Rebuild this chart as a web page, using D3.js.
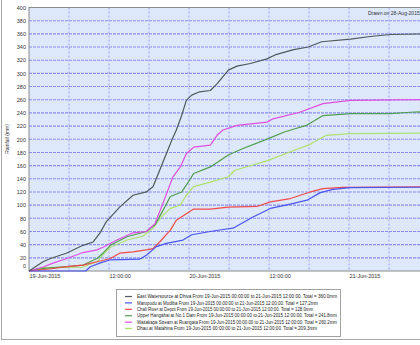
<!DOCTYPE html>
<html>
<head>
<meta charset="utf-8">
<script src="https://cdn.jsdelivr.net/npm/d3@7"></script>
<style>
  body { margin: 0; background: #fff; }
  svg { display: block; font-family: "Liberation Sans", Arial, sans-serif; }
</style>
</head>
<body>
<div id="chart"></div>
<script>
// ---------------- data (hours from 19-Jun-2015 00:00, rainfall mm) ----------------
const eastHours  = [0, 2.1, 3.2, 5.6, 8.1, 9.6, 10.6, 11.6, 13.6, 15.6, 17.6, 18.6, 19.6, 20.6, 21.4, 22.1, 22.9, 23.6, 24.4, 25.6, 27.2, 28.2, 29.9, 31.2, 33.2, 35.7, 36.9, 39.7, 41.9, 43.9, 48.2, 51.2, 54.2, 60];
const eastVals   = [0, 14, 19, 27, 39, 44, 57, 75, 97, 115, 120, 128, 153, 178, 198, 214, 236, 259, 267, 272, 274, 284, 305, 311, 315, 322, 328, 336, 340, 348, 352, 356, 359, 360];

const maruHours  = [0, 8.5, 9.2, 10.6, 12.2, 16.6, 17.6, 19.1, 20.6, 23.1, 24.4, 27.2, 29.1, 30.6, 33.6, 36.2, 39.2, 41.7, 43.7, 45.6, 48.2, 60];
const maruVals   = [0, 0, 6.5, 12, 17, 18, 24, 37, 42, 47, 55, 60, 63, 65, 82, 95, 101.5, 107.5, 119, 124, 126.5, 127.2];

const chaliHours = [0, 3, 5.7, 8.1, 10.2, 12.2, 13.6, 15.6, 17.6, 18.6, 19.6, 21.2, 22.1, 23.6, 24.7, 27.2, 29.9, 34.2, 36.2, 39.2, 42.2, 44.1, 47, 60];
const chaliVals  = [0, 3, 6.5, 9, 14, 19, 27, 29, 32, 34, 44, 62, 77, 87, 94, 94, 97, 98, 105, 110, 120, 125, 127, 128];

const upperHours = [0, 2.2, 5.7, 8.1, 10.2, 11.1, 12.2, 14.7, 17.6, 18.9, 20.1, 21.2, 22.9, 23.9, 24.7, 27.2, 29.9, 32.1, 35.9, 38.3, 39.9, 41.6, 44.1, 48.2, 54.2, 57.2, 60];
const upperVals  = [0, 4, 6.5, 9, 19, 27, 39, 52, 60, 70, 92, 113, 120, 135, 148, 158, 176, 186, 201, 211, 216, 221, 236, 239, 239, 241, 241.8];

const waitHours  = [0, 2.2, 3.6, 5.7, 8.1, 10.2, 11.1, 13.2, 15.6, 17.6, 18.9, 20.1, 21.6, 22.7, 23.6, 24.7, 27.2, 28.2, 29.1, 31.2, 35.7, 36.6, 40.6, 44.1, 48.2, 60];
const waitVals   = [0, 6.5, 12, 19, 28, 32, 36, 47, 58, 60, 72, 103, 143, 158, 178, 188, 191, 206, 214, 221, 226, 231, 241, 254, 259, 260.2];

const dhauHours  = [0, 2.2, 8.1, 10.2, 11.1, 12.2, 14.7, 17.1, 18.6, 20.1, 21.2, 22.7, 23.6, 24.7, 27.2, 29.9, 30.9, 35.9, 39.2, 41.9, 44.6, 48.2, 54.2, 60];
const dhauVals   = [0, 5, 6, 14, 25, 36, 47, 53, 65, 85, 95, 100, 115, 128, 135, 143, 153, 168, 181, 191, 206, 208.6, 209, 209.3];

const seriesNames = [
  "East Watersource at Dhiva From 19-Jun-2015 00:00:00 to 21-Jun-2015 12:00:00. Total = 360.0mm",
  "Marupudu at Mudiba From 19-Jun-2015 00:00:00 to 21-Jun-2015 12:00:00. Total = 127.2mm",
  "Chali River at Depot From 19-Jun-2015 00:00:00 to 21-Jun-2015 12:00:00. Total = 128.0mm",
  "Upper Hangahai at No.1 Dam From 19-Jun-2015 00:00:00 to 21-Jun-2015 12:00:00. Total = 241.8mm",
  "Waitakapa Stream at Ruangata From 19-Jun-2015 00:00:00 to 21-Jun-2015 12:00:00. Total = 260.2mm",
  "Dhau at Matahina From 19-Jun-2015 00:00:00 to 21-Jun-2015 12:00:00. Total = 209.3mm"
];
const seriesColors = ["#4f5a5a", "#4a55ee", "#f04a4a", "#4f9e4f", "#e04ee0", "#b0e070"];
const yTicks = d3.range(0, 401, 20);
const xLabelHours = [0, 12, 24, 36, 48];
const drawnText = "Drawn on 28-Aug-2015";

//------------------------------- SVG --------------------------------//
const width = 420, height = 345;
const plot = { left: 29, top: 7.5, right: 429, bottom: 271 };
const start = new Date(Date.UTC(2015, 5, 19, 0, 0));
const hrs = h => new Date(start.getTime() + h * 3600e3);

const svg = d3.select("#chart").append("svg")
    .attr("width", width)
    .attr("height", height);

// outer frame
svg.append("rect")
    .attr("x", 1.5).attr("y", -2)
    .attr("width", width + 10).attr("height", height - 3.5)
    .attr("fill", "none").attr("stroke", "#a8a8a8");

//----------------------------- SCALES -------------------------------//
const xScale = d3.scaleUtc().domain([hrs(0), hrs(60)]).range([plot.left, plot.right]);
const yScale = d3.scaleLinear().domain([0, 400]).range([plot.bottom, plot.top]);

// plot background
svg.append("rect")
    .attr("x", plot.left).attr("y", plot.top)
    .attr("width", plot.right - plot.left).attr("height", plot.bottom - plot.top)
    .attr("fill", "#dde8fb");

// horizontal gridlines
svg.append("g")
  .selectAll("line").data(yTicks.filter(d => d > 0 && d < 400)).join("line")
    .attr("x1", plot.left).attr("x2", plot.right)
    .attr("y1", d => yScale(d)).attr("y2", d => yScale(d))
    .attr("stroke", "#8a8cf2").attr("stroke-width", 1.1)
    .attr("stroke-dasharray", "3,1");

// vertical gridlines every 6 hours
const xGrid = d3.utcHour.every(6).range(hrs(0), hrs(60.01)).slice(1);
svg.append("g")
  .selectAll("line").data(xGrid).join("line")
    .attr("x1", d => xScale(d)).attr("x2", d => xScale(d))
    .attr("y1", plot.top).attr("y2", plot.bottom)
    .attr("stroke", "#9c9ef0").attr("stroke-width", 1)
    .attr("stroke-dasharray", "2,2");

// plot border
svg.append("rect")
    .attr("x", plot.left).attr("y", plot.top)
    .attr("width", plot.right - plot.left).attr("height", plot.bottom - plot.top)
    .attr("fill", "none").attr("stroke", "#8a8a8a");

//------------------------------ AXES --------------------------------//
const yaxis = d3.axisLeft(yScale).tickValues(yTicks).tickSize(0).tickPadding(3);
const yg = svg.append("g")
    .attr("transform", "translate(" + plot.left + ",0)")
    .call(yaxis);
yg.select(".domain").remove();
yg.selectAll("text")
    .attr("font-size", 5.5).attr("fill", "#333")
    .attr("font-family", "Liberation Sans, Arial, sans-serif")
    .attr("dy", d => d === 0 ? "-0.6em" : "0.32em");

const xaxis = d3.axisBottom(xScale)
    .tickValues(xLabelHours.map(hrs))
    .tickSize(0).tickPadding(3)
    .tickFormat(d => d.getUTCHours() === 0 ? d3.utcFormat("%d-%b-%Y")(d) : d3.utcFormat("%H:%M:%S")(d));
const xg = svg.append("g")
    .attr("transform", "translate(0," + plot.bottom + ")")
    .call(xaxis);
xg.select(".domain").remove();
xg.selectAll("text")
    .attr("font-size", 5.5).attr("fill", "#333")
    .attr("font-family", "Liberation Sans, Arial, sans-serif")
    .attr("text-anchor", "start");

svg.append("text")
    .attr("transform", "translate(9,139) rotate(-90)")
    .attr("text-anchor", "middle")
    .attr("font-size", 5).attr("fill", "#333")
    .text("Rainfall (mm)");

svg.append("text")
    .attr("x", 368).attr("y", 14.5)
    .attr("font-size", 5).attr("fill", "#333")
    .text(drawnText);

//------------------------------ LINES -------------------------------//
const series = [
  [eastHours, eastVals], [maruHours, maruVals], [chaliHours, chaliVals],
  [upperHours, upperVals], [waitHours, waitVals], [dhauHours, dhauVals]
];
const line = d3.line()
    .x(d => xScale(hrs(d[0])))
    .y(d => yScale(d[1]));

const drawOrder = [5, 3, 4, 2, 1, 0];
drawOrder.forEach(i => {
  const pts = series[i][0].map((h, j) => [h, series[i][1][j]]);
  svg.append("path")
      .datum(pts)
      .attr("fill", "none")
      .attr("stroke", seriesColors[i])
      .attr("stroke-width", 1.2)
      .attr("stroke-linejoin", "round")
      .attr("d", line);
});

//----------------------------- LEGEND -------------------------------//
const legend = svg.append("g");
legend.append("rect")
    .attr("x", 116.5).attr("y", 289.5)
    .attr("width", 224).attr("height", 47)
    .attr("fill", "#fff").attr("stroke", "#a0a0a0");

const rows = legend.selectAll("g.row").data(seriesNames).join("g")
    .attr("class", "row")
    .attr("transform", (d, i) => "translate(0," + (296.5 + i * 6.4) + ")");
rows.append("line")
    .attr("x1", 125).attr("x2", 132)
    .attr("stroke", (d, i) => seriesColors[i]).attr("stroke-width", 1.2);
rows.append("text")
    .attr("x", 137).attr("dy", "0.35em")
    .attr("font-size", 4.6).attr("fill", "#222")
    .attr("textLength", (d, i) => [200, 181, 176, 200, 200, 180][i])
    .attr("lengthAdjust", "spacingAndGlyphs")
    .text(d => d);
</script>
</body>
</html>
